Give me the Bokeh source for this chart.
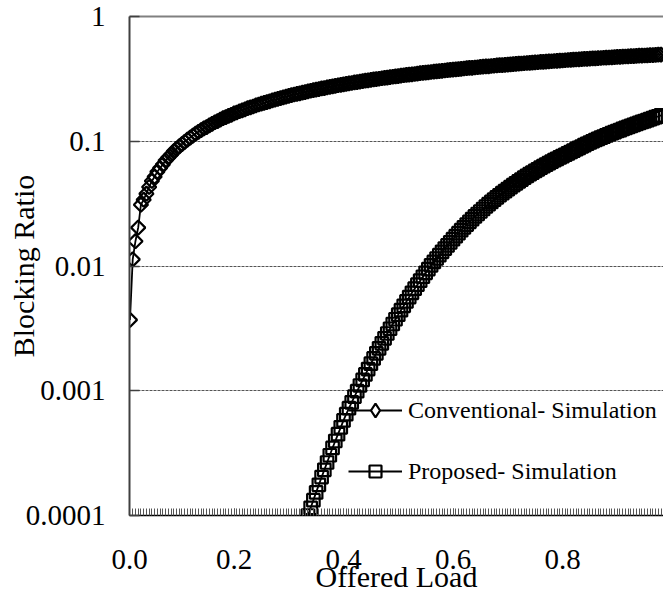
from bokeh.plotting import figure
from bokeh.models import (Range1d, FixedTicker, LinearAxis, Legend, LegendItem,
                          Grid, CustomJSTickFormatter, PrintfTickFormatter)
from bokeh.embed import file_html
from bokeh.resources import INLINE
import numpy as np
import math

# ---------------- data ----------------
# offered load categories (step 0.005, starting at 0.01)
load = [round(0.01 + 0.005 * i, 3) for i in range(195)]

conventional = [
    0.0037, 0.0113, 0.0158, 0.0203,
    0.031, 0.034, 0.038, 0.043, 0.048, 0.052, 0.057, 0.061, 0.065, 0.070,
    0.074, 0.078, 0.083, 0.087, 0.091, 0.095, 0.099, 0.103, 0.107, 0.111,
    0.115, 0.119, 0.123, 0.127, 0.130, 0.134, 0.138, 0.142, 0.145, 0.149,
    0.153, 0.156, 0.160, 0.163, 0.167, 0.170, 0.174, 0.177, 0.180, 0.184,
    0.187, 0.190, 0.194, 0.197, 0.200, 0.203, 0.206, 0.209, 0.213, 0.216,
    0.219, 0.222, 0.225, 0.228, 0.231, 0.234, 0.237, 0.240, 0.242, 0.245,
    0.248, 0.251, 0.254, 0.257, 0.259, 0.262, 0.265, 0.267, 0.270, 0.273,
    0.275, 0.278, 0.281, 0.283, 0.286, 0.288, 0.291, 0.293, 0.296, 0.298,
    0.301, 0.303, 0.306, 0.308, 0.310, 0.313, 0.315, 0.317, 0.320, 0.322,
    0.324, 0.327, 0.329, 0.331, 0.333, 0.336, 0.338, 0.340, 0.342, 0.344,
    0.346, 0.349, 0.351, 0.353, 0.355, 0.357, 0.359, 0.361, 0.363, 0.365,
    0.367, 0.369, 0.371, 0.373, 0.375, 0.377, 0.379, 0.381, 0.383, 0.385,
    0.387, 0.388, 0.390, 0.392, 0.394, 0.396, 0.398, 0.399, 0.401, 0.403,
    0.405, 0.407, 0.408, 0.410, 0.412, 0.413, 0.415, 0.417, 0.419, 0.420,
    0.422, 0.424, 0.425, 0.427, 0.429, 0.430, 0.432, 0.433, 0.435, 0.437,
    0.438, 0.440, 0.441, 0.443, 0.444, 0.446, 0.448, 0.449, 0.451, 0.452,
    0.454, 0.455, 0.457, 0.458, 0.459, 0.461, 0.462, 0.464, 0.465, 0.467,
    0.468, 0.469, 0.471, 0.472, 0.474, 0.475, 0.476, 0.478, 0.479, 0.481,
    0.482, 0.483, 0.485, 0.486, 0.487, 0.488, 0.490, 0.491, 0.492, 0.494,
    0.495,
]

# proposed scheme: visible from load 0.335 onward
proposed_start = 65
proposed = [
    1.000e-4, 1.153e-4, 1.327e-4, 1.531e-4, 1.762e-4, 2.032e-4,
    2.323e-4, 2.661e-4, 3.041e-4, 3.483e-4,
    3.954e-4, 4.487e-4, 5.093e-4, 5.781e-4,
    6.486e-4, 7.244e-4, 8.072e-4, 8.974e-4, 9.931e-4,
    1.102e-3, 1.222e-3, 1.352e-3, 1.493e-3, 1.648e-3,
    1.815e-3, 1.995e-3, 2.188e-3, 2.399e-3, 2.630e-3, 2.877e-3, 3.140e-3,
    3.428e-3, 3.741e-3, 4.074e-3,
    4.426e-3, 4.797e-3, 5.200e-3, 5.636e-3, 6.095e-3, 6.577e-3, 7.079e-3,
    7.621e-3, 8.204e-3, 8.811e-3, 9.441e-3, 1.012e-2,
    1.079e-2, 1.148e-2, 1.222e-2, 1.300e-2, 1.380e-2, 1.462e-2, 1.549e-2,
    1.641e-2,
    1.734e-2, 1.832e-2, 1.936e-2, 2.042e-2, 2.148e-2, 2.260e-2, 2.377e-2,
    2.495e-2, 2.612e-2, 2.735e-2,
    2.864e-2, 2.999e-2, 3.133e-2, 3.266e-2, 3.404e-2, 3.548e-2, 3.690e-2,
    3.837e-2, 3.981e-2, 4.130e-2,
    4.286e-2, 4.446e-2, 4.603e-2, 4.764e-2, 4.932e-2, 5.105e-2, 5.272e-2,
    5.445e-2, 5.610e-2, 5.781e-2,
    5.957e-2, 6.138e-2, 6.310e-2, 6.486e-2, 6.668e-2, 6.855e-2, 7.047e-2,
    7.228e-2, 7.413e-2, 7.603e-2,
    7.798e-2, 7.998e-2, 8.204e-2, 8.414e-2, 8.630e-2, 8.851e-2, 9.078e-2,
    9.311e-2, 9.550e-2, 9.772e-2,
    0.1000, 0.1023, 0.1045, 0.1069, 0.1091, 0.1114, 0.1138, 0.1161, 0.1183,
    0.1208, 0.1230, 0.1256, 0.1279, 0.1303, 0.1327, 0.1352, 0.1377, 0.1403,
    0.1429, 0.1452, 0.1479, 0.1507, 0.1531, 0.1560, 0.1585, 0.1614,
]
proposed_load = load[proposed_start:proposed_start + len(proposed)]

X_START, X_END = 0.00913, 0.98447
x_ticks = [X_START, 0.2, 0.4, 0.6, 0.8]      # first one is labelled "0.0"
y_ticks = [0.0001, 0.001, 0.01, 0.1, 1]

FONT = "Liberation Serif"

# ---------------- figure ----------------
p = figure(width=663, height=595, output_backend="svg", toolbar_location=None,
           x_range=Range1d(X_START, X_END), y_range=Range1d(1e-4, 1),
           y_axis_type="log",
           min_border_left=129, min_border_right=0, min_border_top=16,
           min_border_bottom=78)
p.background_fill_color = "white"
p.border_fill_color = "white"
p.outline_line_color = None

# grid: dashed lines at 0.1 and 0.01 across, the 0.001 line stops at the legend
p.xgrid.visible = False
p.ygrid.visible = False
grid_style = dict(grid_line_color="#555555", grid_line_width=1,
                  grid_line_dash="3 1")
g1 = Grid(dimension=1, axis=None, ticker=FixedTicker(ticks=[0.01, 0.1]),
          **grid_style)
g2 = Grid(dimension=1, axis=None, ticker=FixedTicker(ticks=[0.001]),
          bounds=(X_START, 0.3744), **grid_style)
p.add_layout(g1, "center")
p.add_layout(g2, "center")

# x axis
xa = p.xaxis[0]
xa.ticker = FixedTicker(ticks=x_ticks, minor_ticks=load)
xa.formatter = PrintfTickFormatter(format="%.1f")
xa.axis_line_color = "black"
xa.axis_line_width = 1.5
xa.major_tick_in = 7
xa.major_tick_out = 0
xa.major_tick_line_color = "#444444"
xa.minor_tick_in = 7
xa.minor_tick_out = 0
xa.minor_tick_line_color = "#555555"
xa.major_label_text_font = FONT
xa.major_label_text_font_size = "29px"
xa.major_label_text_color = "black"
xa.major_label_standoff = 34
xa.axis_label = "Offered Load"
xa.axis_label_text_font = FONT
xa.axis_label_text_font_size = "30px"
xa.axis_label_text_font_style = "normal"
xa.axis_label_text_color = "black"
xa.axis_label_standoff = -12

# y axis
ya = p.yaxis[0]
ya.ticker = FixedTicker(ticks=y_ticks)
ya.formatter = CustomJSTickFormatter(code="return String(tick);")
ya.axis_line_color = "#404040"
ya.axis_line_width = 2
ya.major_tick_in = 10
ya.major_tick_out = 0
ya.major_tick_line_color = "#404040"
ya.major_tick_line_width = 1.5
ya.minor_tick_line_color = None
ya.major_label_text_font = FONT
ya.major_label_text_font_size = "29px"
ya.major_label_text_color = "black"
ya.major_label_standoff = 24
ya.axis_label = "Blocking Ratio"
ya.axis_label_text_font = FONT
ya.axis_label_text_font_size = "30px"
ya.axis_label_text_font_style = "normal"
ya.axis_label_text_color = "black"
ya.axis_label_standoff = -17

# top border line
top = LinearAxis(ticker=FixedTicker(ticks=[]), axis_line_color="#808080",
                 axis_line_width=2, major_tick_line_color=None,
                 minor_tick_line_color=None, major_label_text_font_size="0px")
p.add_layout(top, "above")

# ---------------- series ----------------
conv_line = p.line(load, conventional, line_color="black", line_width=1.8)
conv_pts = p.scatter(load, conventional, marker="square", angle=math.pi / 4,
                     size=10, line_color="black", line_width=2.2,
                     fill_color=None)
prop_line = p.line(proposed_load, proposed, line_color="black", line_width=1.8)
prop_pts = p.scatter(proposed_load, proposed, marker="square", size=12.5,
                     line_color="black", line_width=2.2, fill_color=None)

# legend key for the diamond series (legend glyphs are not rotated, so a
# non-drawing diamond renderer supplies the key)
conv_key = p.scatter(np.array([np.nan]), np.array([np.nan]), marker="diamond",
                     line_color="black", line_width=2.2, fill_color="white")

leg1 = Legend(items=[LegendItem(label="Conventional- Simulation",
                                renderers=[conv_line, conv_key])],
              location=(219, 88), padding=0, margin=0, spacing=0,
              glyph_width=54, glyph_height=34, label_height=32,
              label_standoff=6, label_text_font=FONT,
              label_text_font_size="24px", label_text_color="black",
              border_line_color=None, background_fill_alpha=0.0)
leg2 = Legend(items=[LegendItem(label="Proposed- Simulation",
                                renderers=[prop_line, prop_pts])],
              location=(219, 29), padding=0, margin=0, spacing=0,
              glyph_width=54, glyph_height=30, label_height=30,
              label_standoff=6, label_text_font=FONT,
              label_text_font_size="24px", label_text_color="black",
              border_line_color=None, background_fill_alpha=0.0)
p.add_layout(leg1, "center")
p.add_layout(leg2, "center")

open("out.html", "w").write(file_html(p, INLINE))
